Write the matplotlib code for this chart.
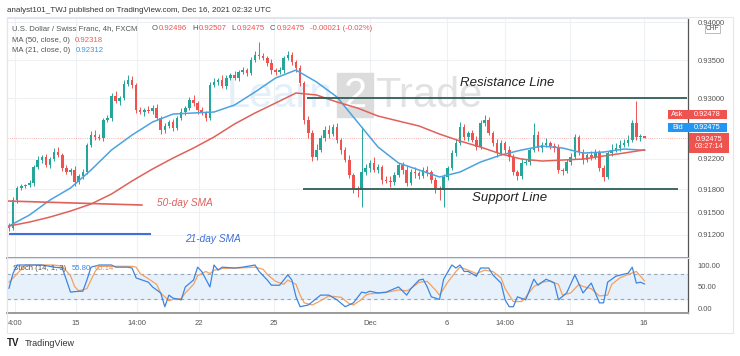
import numpy as np
import matplotlib
matplotlib.use("Agg")
import matplotlib.pyplot as plt
from matplotlib.patches import Rectangle

plt.rcParams['font.family'] = ['Liberation Sans', 'DejaVu Sans']

# ---- data (USD/CHF 4h, FXCM) ----
first_open = 0.91329
closes = [
    0.91289, 0.91658, 0.91816, 0.91842, 0.91855, 0.91882, 0.92092, 0.92184, 0.92224, 0.92118,
    0.92197, 0.92289, 0.92250, 0.92079, 0.92026, 0.92053, 0.91895, 0.91974, 0.92026, 0.92382,
    0.92513, 0.92487, 0.92474, 0.92711, 0.92737, 0.93026, 0.92961, 0.93000, 0.93184, 0.93237,
    0.93171, 0.92842, 0.92816, 0.92842, 0.92829, 0.92868, 0.92737, 0.92579, 0.92632, 0.92684,
    0.92605, 0.92737, 0.92816, 0.92868, 0.92974, 0.92934, 0.92842, 0.92803, 0.92737, 0.93171,
    0.93211, 0.93237, 0.93158, 0.93263, 0.93303, 0.93263, 0.93342, 0.93368, 0.93329, 0.93500,
    0.93566, 0.93552, 0.93526, 0.93461, 0.93368, 0.93342, 0.93368, 0.93526, 0.93566, 0.93474,
    0.93395, 0.93197, 0.92711, 0.92539, 0.92224, 0.92316, 0.92474, 0.92579, 0.92526, 0.92618,
    0.92447, 0.92316, 0.92184, 0.91987, 0.91803, 0.91789, 0.92026, 0.92079, 0.92145, 0.92053,
    0.92092, 0.91921, 0.91908, 0.91895, 0.91987, 0.92118, 0.92053, 0.91882, 0.92026, 0.92013,
    0.91974, 0.92053, 0.92026, 0.91921, 0.91816, 0.91789, 0.91961, 0.92079, 0.92276, 0.92408,
    0.92618, 0.92487, 0.92539, 0.92447, 0.92355, 0.92671, 0.92711, 0.92539, 0.92408, 0.92276,
    0.92408, 0.92316, 0.92224, 0.92026, 0.91974, 0.92145, 0.92158, 0.92316, 0.92513, 0.92342,
    0.92382, 0.92408, 0.92368, 0.92342, 0.92053, 0.92039, 0.92158, 0.92224, 0.92487, 0.92289,
    0.92184, 0.92250, 0.92224, 0.92289, 0.92079, 0.91961, 0.92276, 0.92316, 0.92342, 0.92382,
    0.92408, 0.92447, 0.92671, 0.92487, 0.92496, 0.92475,
]
# wick lengths in pips (0.0001) above / below the body
upper_wick = [
    3, 4, 3, 3, 2, 4, 3, 5, 3, 4, 3, 5, 6, 3, 4, 3, 5, 3, 4, 3,
    5, 7, 4, 3, 4, 4, 6, 3, 5, 7, 5, 3, 4, 3, 5, 4, 5, 3, 4, 3,
    4, 3, 5, 3, 4, 6, 3, 4, 3, 4, 5, 3, 6, 4, 3, 5, 3, 4, 3, 4,
    5, 17, 4, 3, 5, 3, 4, 3, 5, 4, 3, 4, 3, 5, 4, 8, 4, 5, 6, 4,
    5, 3, 4, 6, 3, 4, 59, 5, 4, 8, 4, 3, 5, 6, 4, 3, 4, 5, 4, 6,
    3, 4, 5, 3, 4, 3, 4, 3, 4, 5, 6, 4, 3, 4, 5, 4, 6, 4, 3, 5,
    4, 3, 5, 4, 3, 6, 4, 3, 16, 5, 4, 7, 3, 4, 5, 3, 4, 5, 4, 3,
    4, 3, 5, 4, 3, 4, 3, 8, 6, 7, 5, 6, 4, 29, 3, 1,
]
lower_wick = [
    4, 3, 4, 3, 3, 3, 4, 3, 4, 3, 4, 3, 3, 4, 3, 4, 5, 3, 4, 3,
    3, 4, 3, 4, 3, 4, 3, 5, 3, 3, 4, 4, 3, 5, 3, 4, 3, 5, 4, 3,
    4, 3, 3, 4, 3, 4, 5, 3, 4, 3, 3, 4, 3, 4, 3, 3, 4, 3, 4, 3,
    3, 4, 3, 4, 5, 4, 3, 4, 3, 4, 5, 4, 5, 6, 5, 4, 3, 4, 5, 3,
    4, 5, 3, 4, 5, 9, 22, 4, 5, 3, 4, 5, 3, 6, 4, 3, 5, 4, 3, 6,
    4, 3, 5, 4, 6, 13, 22, 4, 3, 4, 3, 4, 5, 3, 4, 3, 4, 3, 4, 5,
    3, 4, 5, 4, 5, 4, 3, 4, 3, 4, 5, 3, 4, 5, 4, 5, 3, 4, 3, 4,
    5, 3, 4, 3, 4, 5, 3, 4, 3, 4, 3, 4, 3, 4, 5, 0,
]

# moving averages, read every 5th candle
ma21 = [0.91316, 0.91461, 0.91658, 0.91816, 0.92053, 0.92316, 0.92513, 0.92684,
        0.92789, 0.92803, 0.92816, 0.92908, 0.93079, 0.93263, 0.93368, 0.93211,
        0.93013, 0.92684, 0.92355, 0.92145, 0.92053, 0.91961, 0.92026, 0.92158,
        0.92250, 0.92316, 0.92368, 0.92342, 0.92276, 0.92289, 0.92329, 0.92312]
ma50 = [0.91316, 0.91368, 0.91434, 0.91513, 0.91605, 0.91737, 0.91908, 0.92066,
        0.92210, 0.92342, 0.92487, 0.92658, 0.92803, 0.92934, 0.93066, 0.93040,
        0.92947, 0.92868, 0.92763, 0.92697, 0.92632, 0.92526, 0.92434, 0.92355,
        0.92263, 0.92197, 0.92171, 0.92184, 0.92197, 0.92237, 0.92276, 0.92318]

# stochastic (14,1,3): candle index and value
k_idx = [0, 1, 2, 4, 8, 11, 13, 14, 15, 17, 18, 19, 20, 22, 25, 26, 29, 30, 31, 34,
         35, 37, 38, 39, 40, 42, 43, 45, 46, 47, 49, 50, 51, 52, 55, 57, 60, 61, 63, 64,
         66, 68, 69, 70, 71, 73, 76, 78, 80, 82, 84, 86, 87, 88, 90, 92, 95, 97, 98, 100,
         101, 102, 103, 105, 106, 108, 109, 110, 111, 112, 114, 115, 117, 118, 120, 121, 122, 123, 124, 126,
         128, 129, 131, 133, 134, 136, 138, 140, 142, 144, 145, 146, 148, 151, 152, 153, 154, 155]
k_val = [46, 81, 100, 100, 100, 95, 93, 65, 37, 39, 39, 65, 95, 100, 100, 95, 95, 93, 70, 60,
         49, 35, 3, 30, 23, 19, 49, 65, 95, 85, 49, 100, 88, 95, 93, 95, 100, 85, 65, 53,
         53, 77, 65, 26, 3, 7, 30, 30, 19, 3, 12, 37, 35, 39, 35, 37, 49, 30, 45, 65,
         67, 49, 26, 20, 67, 100, 93, 100, 85, 85, 74, 93, 93, 77, 58, 19, 3, 3, 26, 19,
         67, 53, 67, 58, 19, 35, 77, 35, 58, 12, 12, 60, 74, 81, 95, 58, 60, 56]
d_idx = [0, 4, 11, 13, 15, 16, 17, 19, 20, 21, 22, 30, 31, 32, 34, 36, 37, 39, 40, 42,
         43, 45, 46, 48, 49, 50, 52, 56, 60, 62, 63, 65, 67, 68, 70, 71, 72, 74, 76, 78,
         81, 83, 84, 86, 87, 88, 92, 95, 97, 98, 100, 102, 104, 105, 107, 109, 110, 112, 114, 116,
         118, 120, 121, 123, 125, 126, 128, 130, 132, 134, 135, 137, 139, 140, 142, 144, 146, 147, 149, 151,
         153, 155]
d_val = [60, 100, 100, 97, 75, 50, 40, 45, 65, 85, 97, 97, 95, 80, 68, 55, 35, 17, 20, 22,
         35, 55, 75, 85, 80, 88, 92, 93, 95, 90, 78, 62, 55, 65, 55, 30, 12, 7, 17, 28,
         25, 10, 7, 20, 30, 33, 36, 42, 40, 45, 60, 62, 42, 30, 60, 85, 95, 88, 80, 88,
         85, 70, 45, 15, 15, 25, 50, 60, 63, 55, 30, 35, 55, 50, 45, 28, 30, 55, 70, 78,
         85, 63]

date_pos = [1.5, 16.3, 31.2, 46.3, 64.6, 88, 106.8, 121, 136.8, 154.9]
date_labels = ['4:00', '15', '14:00', '22', '25', 'Dec', '6', '14:00', '13', '16']
price_ticks = [0.912, 0.915, 0.918, 0.922, 0.930, 0.935, 0.940]

resistance = 0.93000
support = 0.91800

GREEN = '#26a69a'
RED = '#ef5350'
BLUE_MA = '#4ba3e0'
RED_MA = '#e0605a'
GREY = '#555555'

W, H = 740, 356


def fx(x):
    return x / W


def fy(y):
    return 1 - y / H


fig = plt.figure(figsize=(7.4, 3.56), dpi=100)
ax = fig.add_axes([fx(7), fy(258), fx(688) - fx(7), fy(18) - fy(258)])
ax2 = fig.add_axes([fx(7), fy(313), fx(688) - fx(7), fy(258) - fy(313)], sharex=ax)

# ---- candles ----
c = np.array(closes)
o = np.array([first_open] + closes[:-1])
hi = np.maximum(o, c) + np.array(upper_wick) * 1e-4
lo = np.minimum(o, c) - np.array(lower_wick) * 1e-4
idx = np.arange(len(c))
col = np.where(c >= o, GREEN, RED)
ax.vlines(idx, lo, hi, colors=col, lw=0.7, zorder=3)
ax.bar(idx, np.maximum(np.abs(c - o), 0.00004), bottom=np.minimum(o, c),
       width=0.62, color=col, linewidth=0, zorder=3)

# moving averages
ma_idx = np.arange(0, len(c), 5)
ax.plot(ma_idx, ma21, color=BLUE_MA, lw=1.1, zorder=4)
ax.plot(ma_idx, ma50, color=RED_MA, lw=1.1, zorder=4)

# last price line
ax.axhline(c[-1], color=RED, ls=':', lw=0.6, alpha=0.6, zorder=2)

# support / resistance + labels
ax.hlines(resistance, 72.7, 165.4, color='#2f5d55', lw=1.3, zorder=5)
ax.hlines(support, 71.7, 163.2, color='#2f5d55', lw=1.3, zorder=5)
ax.text(121.5, 0.93197, 'Resistance Line', style='italic', fontsize=9.5,
        color='#222222', ha='center', va='center', zorder=6)
ax.text(122.2, 0.91684, 'Support Line', style='italic', fontsize=9.5,
        color='#222222', ha='center', va='center', zorder=6)

# SMA pointers
ax.plot([-0.5, 32.4], [0.91645, 0.91592], color=RED_MA, lw=1.2, zorder=5)
ax.plot([0.2, 34.4], [0.91210, 0.91210], color='#3f6fd8', lw=1.5, zorder=5)
ax.text(42.9, 0.91618, '50-day SMA', style='italic', fontsize=7.3,
        color=RED_MA, ha='center', va='center')
ax.text(49.8, 0.91145, '21-day SMA', style='italic', fontsize=7.3,
        color='#3f6fd8', ha='center', va='center')

# faint watermark
ax.text(fx(333), fy(96), 'Learn', transform=fig.transFigure, fontsize=30,
        color='#e3f0fa', ha='right', va='center', zorder=1)
ax.add_patch(Rectangle((fx(337), fy(117)), fx(373) - fx(337), fy(73) - fy(117),
                       transform=fig.transFigure, color='#dcdcdc', zorder=1))
ax.text(fx(355), fy(96), '2', transform=fig.transFigure, fontsize=30,
        color='white', ha='center', va='center', zorder=1)
ax.text(fx(375), fy(96), 'Trade', transform=fig.transFigure, fontsize=30,
        color='#e2e2e2', ha='left', va='center', zorder=1)

ax.set_xlim(-0.49, 165.6)
ax.set_ylim(0.90895, 0.94053)
ax.set_xticks(date_pos)
ax.tick_params(axis='x', length=0, labelbottom=False)
ax.yaxis.tick_right()
ax.set_yticks(price_ticks)
ax.set_yticklabels([f'{p:.5f}' for p in price_ticks])
ax.tick_params(axis='y', length=0, pad=7, labelsize=5.5, labelcolor=GREY)
ax.grid(True, color='#eef1f4', lw=0.8, zorder=0)
ax.set_axisbelow(True)

# ---- stochastic ----
ax2.axhspan(20, 80, color='#e7f1fb', zorder=0)
for lvl in (20, 80):
    ax2.axhline(lvl, color='#9aa7b5', lw=0.8, ls=(0, (3, 3)), zorder=1)
ax2.plot(k_idx, k_val, color='#3d85e0', lw=0.9, zorder=3)
ax2.plot(d_idx, d_val, color='#f5a060', lw=0.9, zorder=2)
ax2.set_ylim(-11.6, 116.3)
ax2.yaxis.tick_right()
ax2.set_yticks([0, 50, 100])
ax2.set_yticklabels(['0.00', '50.00', '100.00'])
ax2.tick_params(axis='y', length=0, pad=7, labelsize=5.5, labelcolor=GREY)
ax2.set_xticks(date_pos)
ax2.set_xticklabels(date_labels)
ax2.tick_params(axis='x', length=0, pad=5, labelsize=5.5, labelcolor=GREY)
ax2.grid(True, axis='x', color='#eef1f4', lw=0.8, zorder=0)
ax2.set_axisbelow(True)

for a in (ax, ax2):
    for s in ('left', 'top'):
        a.spines[s].set_color('#e0e3eb')
        a.spines[s].set_linewidth(0.8)
    a.spines['right'].set_color(GREY)
    a.spines['right'].set_linewidth(0.9)
    a.spines['bottom'].set_color('#9a9a9a')
    a.spines['bottom'].set_linewidth(1.4)

# outer frame of the price scale / date axis
fig.add_artist(Rectangle((fx(7), fy(333)), fx(733) - fx(7), fy(17) - fy(333),
                         transform=fig.transFigure, fill=False,
                         edgecolor='#e3e6ec', lw=0.8))

# ---- header and legends ----
renderer = fig.canvas.get_renderer()


def chain(x_px, y_px, parts, size=5.6):
    # lay text pieces left to right, each starting where the last one ended
    x = fx(x_px)
    for s, colr, gap in parts:
        t = fig.text(x, fy(y_px), s, fontsize=size, color=colr, va='center')
        bb = t.get_window_extent(renderer)
        x = (bb.x1 + gap) / fig.bbox.width


fig.text(fx(7), fy(10), 'analyst101_TWJ published on TradingView.com, Dec 16, 2021 02:32 UTC',
         fontsize=5.8, color='#333333', va='center')
fig.text(fx(12), fy(29), 'U.S. Dollar / Swiss Franc, 4h, FXCM', fontsize=5.6,
         color=GREY, va='center')
chain(152, 29, [('O', GREY, 1), ('0.92496', RED, 5), ('H', GREY, 1), ('0.92507', RED, 5),
                ('L', GREY, 1), ('0.92475', RED, 5), ('C', GREY, 1), ('0.92475', RED, 5),
                ('-0.00021 (-0.02%)', RED, 0)])
chain(12, 40, [('MA (50, close, 0)', GREY, 5), ('0.92318', RED_MA, 0)])
chain(12, 51, [('MA (21, close, 0)', GREY, 5), ('0.92312', '#3d95dd', 0)])
chain(13, 269, [('Stoch (14, 1, 3)', GREY, 5), ('55.80', '#3d85e0', 4), ('65.14', '#f08a4b', 0)])


# ---- price tags on the scale ----
def tag(x0, x1, y0, y1, text, bg, size=5.3):
    fig.add_artist(Rectangle((fx(x0), fy(y1)), fx(x1) - fx(x0), fy(y0) - fy(y1),
                             transform=fig.transFigure, color=bg, lw=0))
    fig.text(fx((x0 + x1) / 2), fy((y0 + y1) / 2), text, fontsize=size, color='white',
             ha='center', va='center', linespacing=1.1)


tag(668, 687, 110, 119, 'Ask', RED)
tag(687, 727, 110, 119, '0.92478', RED)
tag(668, 687, 123, 132, 'Bid', '#2196f3')
tag(687, 727, 123, 132, '0.92475', '#2196f3')
tag(689, 729, 133, 153, '0.92475\n03:27:14', RED)
fig.add_artist(Rectangle((fx(705), fy(33)), fx(720) - fx(705), fy(25) - fy(33),
                         transform=fig.transFigure, facecolor='white',
                         edgecolor='#b0b0b0', lw=0.6))
fig.text(fx(712.5), fy(29), 'CHF', fontsize=4.8, color=GREY, ha='center', va='center')

# TradingView logo
fig.text(fx(7), fy(343), 'TV', fontsize=7, fontweight='bold', color='#222222', va='center')
fig.text(fx(25), fy(343), 'TradingView', fontsize=6.5, color='#333333', va='center')

fig.savefig('out.png', dpi=100)
